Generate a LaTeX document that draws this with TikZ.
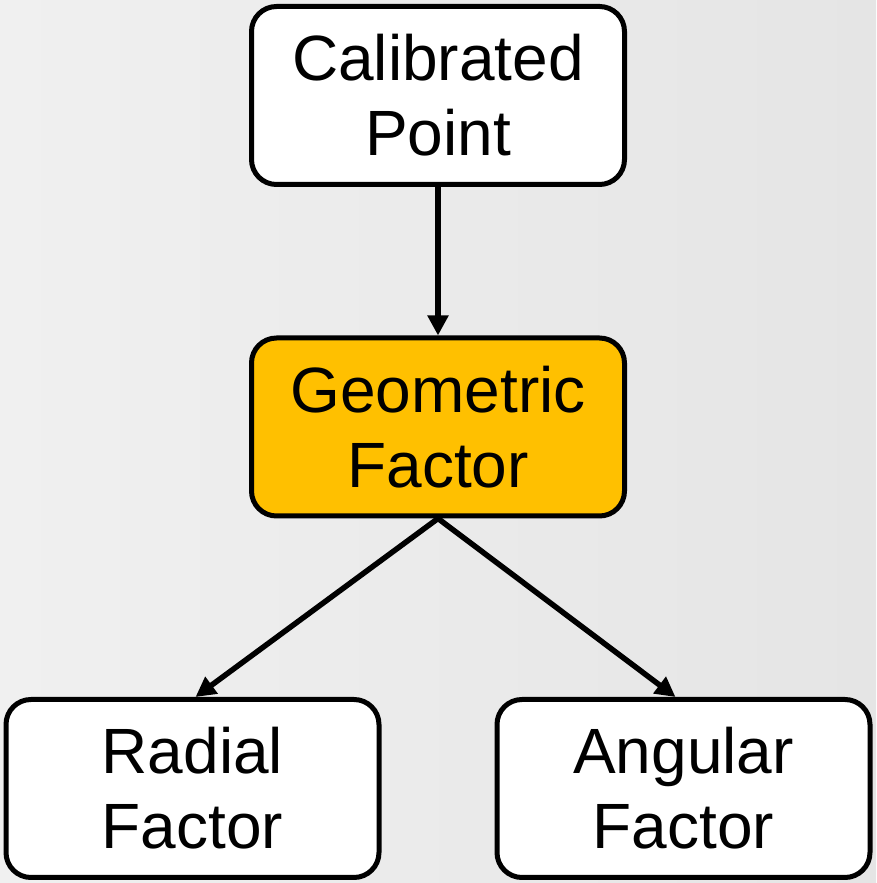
\documentclass[tikz,border=0pt]{standalone}
\usepackage{fontspec}
\setmainfont{Liberation Sans}
\usetikzlibrary{arrows.meta,calc}
\definecolor{bgA}{HTML}{F0F0F0}
\definecolor{bgB}{HTML}{E5E5E5}
\definecolor{gold}{HTML}{FFC000}
\tikzset{
  box/.style={draw=black, line width=5pt, rounded corners=25pt, fill=white,
    minimum width=373pt, minimum height=178pt, align=center, inner sep=0pt,
    font=\fontsize{64}{75}\selectfont},
  conn/.style={line width=5.5pt, -{Triangle[length=20pt,width=20pt]}}
}
\begin{document}
\begin{tikzpicture}[x=1pt,y=1pt]
\useasboundingbox (0,0) rectangle (876,883);
\shade[left color=bgA, right color=bgB] (0,0) rectangle (876,883);
\node[box] (cal) at (438,787.5) {Calibrated\\Point};
\node[box, fill=gold] (geo) at (438,456) {Geometric\\Factor};
\node[box] (rad) at (192.5,94.5) {Radial\\Factor};
\node[box] (ang) at (683.5,94.5) {Angular\\Factor};
\draw[conn] (cal.south) -- (geo.north);
\draw[conn] (geo.south) -- ($(rad.north)+(3,0)$);
\draw[conn] (geo.south) -- ($(ang.north)+(-8,0)$);
\end{tikzpicture}
\end{document}
